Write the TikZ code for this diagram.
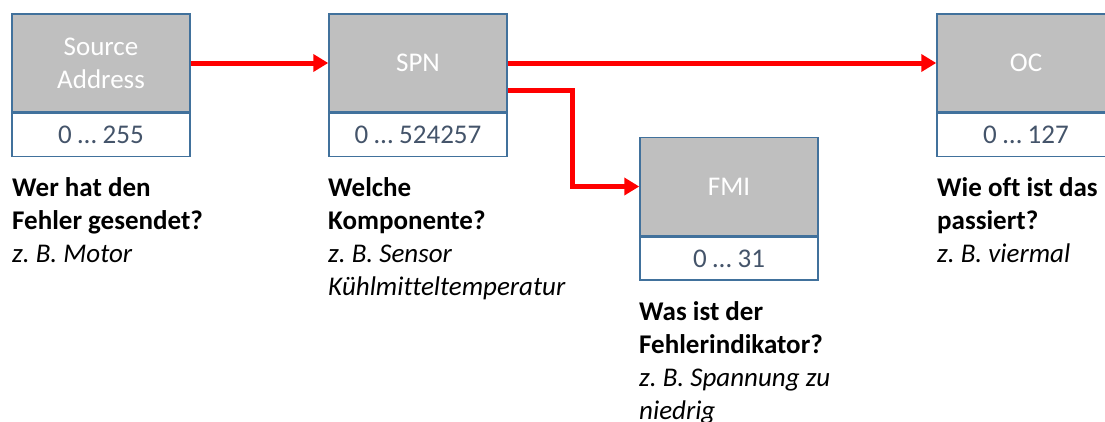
\documentclass[tikz,border=0pt]{standalone}
\usepackage{fontspec}
\setmainfont{Carlito}[Ligatures=NoCommon]
\frenchspacing
\usetikzlibrary{positioning,arrows.meta}
\definecolor{boxgray}{HTML}{BFBFBF}
\definecolor{boxline}{HTML}{41719C}
\definecolor{rangetext}{HTML}{44546A}
\tikzset{every node/.style={align=center, inner sep=0pt}, >={Triangle[length=15pt,width=17pt]},
    field/.style={draw=boxline, line width=1.5pt, fill=boxgray, text=white, minimum width=178pt, minimum height=98pt, font=\fontsize{27}{33}\selectfont},
    rangebox/.style={draw=boxline, line width=1.5pt, fill=white, text=rangetext, minimum width=178pt, minimum height=43pt, font=\fontsize{27}{33}\selectfont},
    info/.style={anchor=north west, align=left, font=\fontsize{27}{33}\selectfont},
    link/.style={->, draw=red, line width=5pt}}

\begin{document}
\begin{tikzpicture}[x=1pt, y=-1pt]
    \useasboundingbox (0,0) rectangle (1105,421);
    \clip (0,0) rectangle (1105,421);
    % the four fields with their value ranges
    \node [field] (sa) at (101,63) {Source\\Address};
    \node [rangebox, below=0pt of sa] (sa-range) {0 … 255};
    \node [field] (spn) at (418,63) {SPN};
    \node [rangebox, below=0pt of spn] (spn-range) {0 … 524257};
    \node [field] (fmi) at (729,186.5) {FMI};
    \node [rangebox, below=0pt of fmi] (fmi-range) {0 … 31};
    \node [field] (oc) at (1026,63) {OC};
    \node [rangebox, below=0pt of oc] (oc-range) {0 … 127};
    % connectors
    \draw [link] (sa) -- (spn);
    \draw [link] (spn) -- (oc);
    \draw [link] ([yshift=-27pt]spn.east) -- ++(65,0) |- (fmi);
    % questions below the fields
    \node [info] (sa-info) at (12,177) {\textbf{Wer hat den}\\\textbf{Fehler gesendet?}\\\textit{z. B. Motor}};
    \node [info] (spn-info) at (328,177) {\textbf{Welche}\\\textbf{Komponente?}\\\textit{z. B. Sensor}\\\textit{Kühlmitteltemperatur}};
    \node [info] (fmi-info) at (639,301) {\textbf{Was ist der}\\\textbf{Fehlerindikator?}\\\textit{z. B. Spannung zu}\\\textit{niedrig}};
    \node [info] (oc-info) at (937,177) {\textbf{Wie oft ist das}\\\textbf{passiert?}\\\textit{z. B. viermal}};
\end{tikzpicture}
\end{document}
